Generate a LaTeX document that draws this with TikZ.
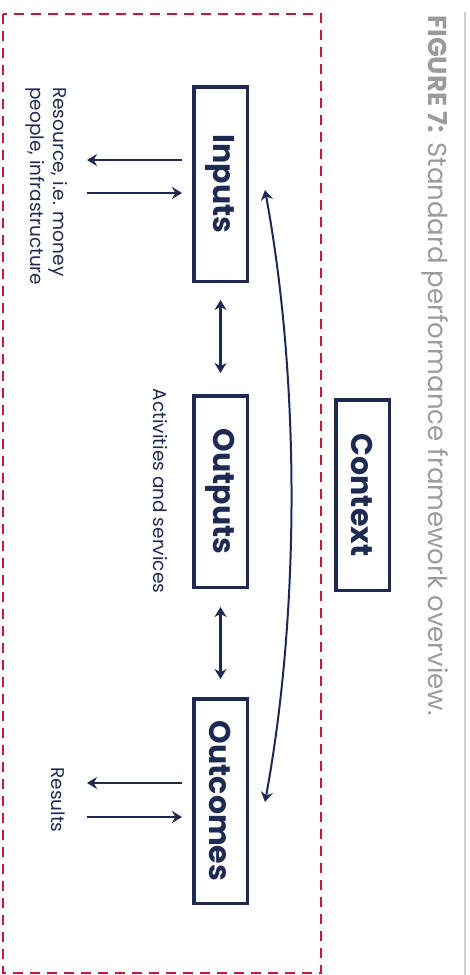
\documentclass[tikz,border=0pt]{standalone}
\usepackage{fontspec}
\setmainfont{Poppins}
\usetikzlibrary{calc,arrows.meta}

\definecolor{navy}{RGB}{30,42,82}
\definecolor{framered}{RGB}{200,24,58}
\definecolor{capgray}{RGB}{155,155,155}

\tikzset{
  stage/.style={draw=navy, line width=3.5pt, rotate=-90, minimum height=53.5pt, inner sep=0pt,
    text=navy, font=\bfseries\fontsize{30}{32}\selectfont},
  side/.style={rotate=-90, inner sep=0pt, text=navy, font=\fontsize{18.5}{23}\selectfont},
  flow/.style={draw=navy, line width=2.6pt, -{Stealth[length=10pt,width=12pt]}},
  twoway/.style={draw=navy, line width=2.6pt, {Stealth[length=10pt,width=12pt]}-{Stealth[length=10pt,width=12pt]}},
}

\begin{document}
\begin{tikzpicture}[x=1pt, y=-1pt]
		%%%%% START %%%%%
		\useasboundingbox (0,0) rectangle (469,975);
		
		\draw[capgray!50, line width=2pt] (465,12) -- (465,975);
		\node[rotate=-90, anchor=base west, inner sep=0pt, text=capgray, font=\fontsize{26}{28}\selectfont] (cap) at (428,15)
			{\textbf{FIGURE 7:} Standard performance framework overview.};
		
		\draw[framered, line width=2pt, dash pattern=on 10pt off 7pt] (3,14) rectangle (321,973);
		
		\node[stage, minimum width=194.5pt] (in) at (220.5,184) {Inputs};
		\node[stage, minimum width=191.5pt] (out) at (220.5,491.5) {Outputs};
		\node[stage, minimum width=204.5pt] (res) at (220.5,801) {Outcomes};
		\node[stage, minimum width=190.5pt] (ctx) at (362.5,495) {Context};
		
		\draw[twoway, shorten <=17pt, shorten >=21pt] (in.east) -- (out.west);
		\draw[twoway, shorten <=18pt, shorten >=18pt] (out.east) -- (res.west);
		
		\coordinate (inA) at (87,160);
		\coordinate (inB) at (87,193);
		\coordinate (resA) at (87,783);
		\coordinate (resB) at (87,817);
		\draw[flow, shorten <=10pt] (inA -| in.south) -- (inA);
		\draw[flow, shorten >=10pt] (inB) -- (inB -| in.south);
		\draw[flow, shorten <=10pt] (resA -| res.south) -- (resA);
		\draw[flow, shorten >=10pt] (resB) -- (resB -| res.south);
		
		\draw[twoway, line width=2pt] ($(in.north)+(16,6)$) .. controls (300,380) and (300,612) .. ($(res.north)+(16,1)$);
		
		\node[side, anchor=north west, align=left] (resource) at (68,87) {Resource, i.e. money\\people, infrastructure};
		\node[side] (act) at (160,491) {Activities and services};
		\node[side] (results) at (58,800) {Results};
		
		%%%%% END %%%%%
\end{tikzpicture}
\end{document}
